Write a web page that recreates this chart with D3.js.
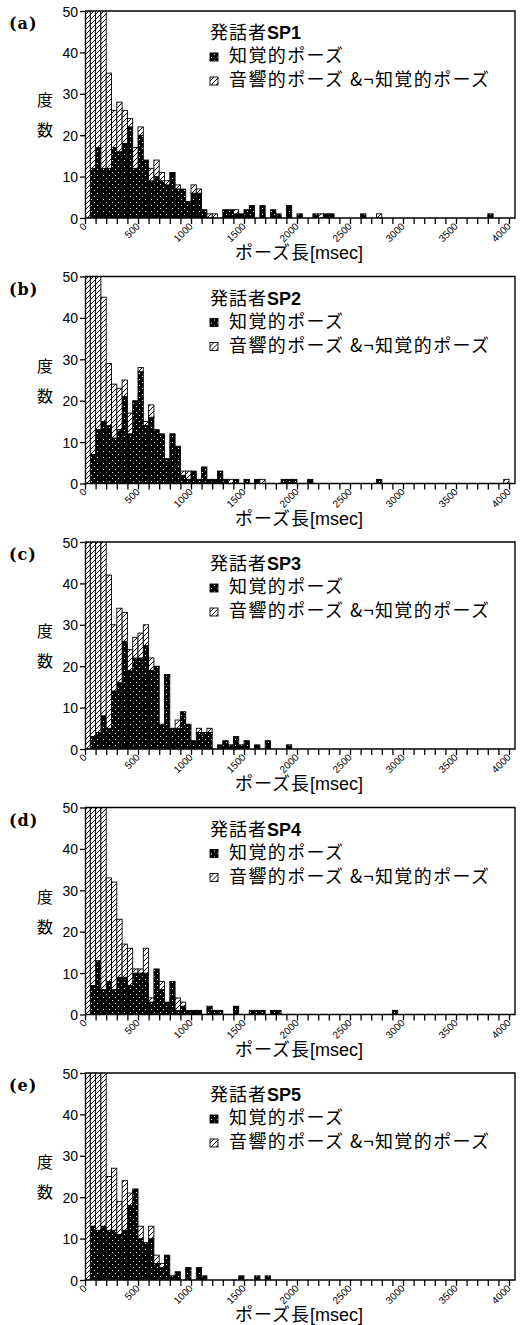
<!DOCTYPE html>
<html>
<head>
<meta charset="utf-8">
<script src="https://cdn.jsdelivr.net/npm/d3@7"></script>
<style>
  body { margin: 0; background: #fff; }
  svg text { fill: #000; }
  .sans { font-family: "Liberation Sans", Arial, sans-serif; }
  .jp { font-family: "Noto Sans CJK JP", sans-serif; }
  .serif { font-family: "DejaVu Serif", serif; font-weight: bold; }
</style>
</head>
<body>
<svg id="chart" width="524" height="1325"></svg>
<script>
// histogram bins are 50 msec wide, counted from 0
const BIN_MS = 50;
const X_MAX = 4000;
const Y_MAX = 50;
const X_TICKS = [0, 500, 1000, 1500, 2000, 2500, 3000, 3500, 4000];
const X_MINOR_STEP = 100;
const Y_TICKS = [0, 10, 20, 30, 40, 50];

const PANEL_LABELS = ["(a)", "(b)", "(c)", "(d)", "(e)"];
const SPEAKERS = ["SP1", "SP2", "SP3", "SP4", "SP5"];
const LEGEND_TITLE = "発話者";
const LEGEND_LABELS = ["知覚的ポーズ", "音響的ポーズ &¬知覚的ポーズ"];
const X_TITLE = "ポーズ長";
const X_UNIT = "[msec]";
const Y_TITLE = ["度", "数"];

// counts per bin: perceived pauses (dark) and acoustic-only pauses (hatched)
const darkSP1 = [0,12,17,12,12,17,16,18,22,12, 20,14,9,10,9,8,11,7,7,4, 6,6,2,0,0,0,2,2,1,1,
                 2,3,0,3,0,2,1,0,3,0, 1,0,0,1,0,1,1,0,0,0, 0,0,1,0,0,0,0,0,0,0,
                 0,0,0,0,0,0,0,0,0,0, 0,0,0,0,0,0,1];
const acoSP1  = [62,48,43,48,23,9,12,8,2,5, 2,0,3,4,2,1,0,1,0,0, 2,1,0,1,1,0,0,0,1,0,
                 0,0,0,0,0,0,0,0,0,0, 0,0,0,0,1,0,0,0,0,0, 0,0,0,0,0,1];

const darkSP2 = [0,7,13,15,14,11,13,21,12,20, 27,14,16,13,12,6,12,9,2,1, 3,1,4,1,1,3,1,0,1,0,
                 1,0,1,0,0,0,0,1,1,1, 0,0,1,0,0,0,0,0,0,0, 0,0,0,0,0,1];
const acoSP2  = [62,53,45,30,15,13,10,4,5,0, 1,1,3,0,0,0,0,0,1,2, 0,0,0,0,0,0,0,1,0,0,
                 0,0,0,1,0,0,0,0,0,0, 0,0,0,0,0,0,0,0,0,0, 0,0,0,0,0,0,0,0,0,0,
                 0,0,0,0,0,0,0,0,0,0, 0,0,0,0,0,0,0,0,0,1];

const darkSP3 = [0,3,4,8,5,14,16,26,19,22, 22,25,19,20,6,18,5,5,9,6, 2,4,4,4,0,1,2,1,3,1,
                 2,0,1,0,2,0,0,0,1];
const acoSP3  = [62,57,56,52,37,16,18,7,5,5, 6,5,3,0,0,0,0,2,0,0, 0,1,0,1];

const darkSP4 = [0,7,13,6,8,6,9,9,7,10, 10,10,3,11,6,3,8,1,2,1, 1,1,0,2,1,1,0,0,2,0,
                 0,1,1,1,0,1,1,0,0,0, 0,0,0,0,0,0,0,0,0,0, 0,0,0,0,0,0,0,0,1];
const acoSP4  = [62,53,47,54,25,26,14,8,9,1, 1,6,1,0,2,0,0,3,1];

const darkSP5 = [0,13,12,13,12,12,11,12,18,22, 10,9,10,4,3,6,1,2,0,3, 0,3,1,0,0,0,0,0,0,1,
                 0,0,1,0,1];
const acoSP5  = [62,47,48,47,13,15,8,12,3,0, 3,0,3,2,1];

const DARK = [darkSP1, darkSP2, darkSP3, darkSP4, darkSP5];
const ACO = [acoSP1, acoSP2, acoSP3, acoSP4, acoSP5];

// Layout
// ----------------------------------------
const plotLeft = 85,
    plotRight = 509,     // x of 4000 msec
    frameRight = 515,
    firstTop = 11,
    panelStep = 265.5,
    plotHeight = 207;

const svg = d3.select("#chart");
const defs = svg.append("defs");

// stippled black for perceived pauses
const dots = defs.append("pattern")
    .attr("id", "dots")
    .attr("patternUnits", "userSpaceOnUse")
    .attr("width", 6).attr("height", 6);
dots.append("rect").attr("width", 6).attr("height", 6).attr("fill", "#000");
dots.append("rect").attr("x", 1).attr("y", 1).attr("width", 1).attr("height", 1).attr("fill", "#fff");
dots.append("rect").attr("x", 4).attr("y", 4).attr("width", 1).attr("height", 1).attr("fill", "#fff");

// diagonal hatch for acoustic-only pauses
const hatch = defs.append("pattern")
    .attr("id", "hatch")
    .attr("patternUnits", "userSpaceOnUse")
    .attr("width", 5).attr("height", 5);
hatch.append("rect").attr("width", 5).attr("height", 5).attr("fill", "#fff");
hatch.append("path")
    .attr("d", "M0,5 L5,0 M-1,1 L1,-1 M4,6 L6,4")
    .attr("stroke", "#000")
    .attr("stroke-width", 1);

const FILLS = ["url(#dots)", "url(#hatch)"];

const x = d3.scaleLinear().domain([0, X_MAX]).range([plotLeft, plotRight]);
const bins = d3.range(0, X_MAX, BIN_MS);

SPEAKERS.forEach((sp, i) => {
    const top = firstTop + i * panelStep;
    const bottom = top + plotHeight;
    const y = d3.scaleLinear().domain([0, Y_MAX]).range([bottom, top]);

    const rows = bins.map((b, k) => ({
        bin: b,
        dark: DARK[i][k] || 0,
        aco: ACO[i][k] || 0
    }));
    const series = d3.stack().keys(["dark", "aco"])(rows);

    const g = svg.append("g");

    g.append("clipPath")
        .attr("id", "clip" + i)
        .append("rect")
        .attr("x", plotLeft).attr("y", top)
        .attr("width", frameRight - plotLeft).attr("height", plotHeight);

    // Bars
    // ----------------------------------------
    const bars = g.append("g").attr("clip-path", `url(#clip${i})`);
    bars.selectAll("g")
        .data(series)
        .join("g")
        .attr("fill", (s, j) => FILLS[j])
        .selectAll("rect")
        .data(s => s.filter(d => d[1] > d[0]))
        .join("rect")
        .attr("x", d => x(d.data.bin))
        .attr("width", d => x(d.data.bin + BIN_MS) - x(d.data.bin))
        .attr("y", d => y(d[1]))
        .attr("height", d => y(d[0]) - y(d[1]))
        .attr("stroke", "#000")
        .attr("stroke-width", 0.9);

    // Axes and frame
    // ----------------------------------------
    const yAxis = g.append("g")
        .attr("transform", `translate(${plotLeft},0)`)
        .call(d3.axisLeft(y).tickValues(Y_TICKS).tickSize(5).tickSizeOuter(0).tickPadding(2));
    yAxis.select(".domain").attr("stroke-width", 1.4);
    yAxis.selectAll(".tick line").attr("stroke-width", 1.3);
    yAxis.selectAll("text")
        .attr("class", "sans")
        .attr("font-family", null)
        .attr("font-size", 14)
        .attr("dy", "0.36em");
    yAxis.attr("font-family", null);

    const xAxis = g.append("g")
        .attr("transform", `translate(0,${bottom})`)
        .call(d3.axisBottom(x)
            .tickValues(d3.range(0, X_MAX + 1, X_MINOR_STEP))
            .tickSize(6).tickSizeOuter(0)
            .tickFormat(""));
    xAxis.select(".domain").remove();
    xAxis.selectAll(".tick line").attr("stroke-width", 1.3);

    g.selectAll(".xlab")
        .data(X_TICKS)
        .join("text")
        .attr("class", "xlab sans")
        .attr("transform", d => `translate(${x(d) + 2.5},${bottom + 9}) rotate(-45)`)
        .attr("text-anchor", "end")
        .attr("font-size", 10)
        .text(d => d);

    // frame: bottom, top and right edges
    g.append("path")
        .attr("d", `M${plotLeft},${bottom}H${frameRight}V${top}H${plotLeft}`)
        .attr("fill", "none")
        .attr("stroke", "#000")
        .attr("stroke-width", 1.4);

    // Labels
    // ----------------------------------------
    g.append("text")
        .attr("class", "serif")
        .attr("x", 9).attr("y", top + 18)
        .attr("font-size", 16)
        .attr("letter-spacing", 1)
        .text(PANEL_LABELS[i]);

    g.selectAll(".ylab")
        .data(Y_TITLE)
        .join("text")
        .attr("class", "ylab jp")
        .attr("x", 45).attr("y", (d, k) => top + 95 + k * 30)
        .attr("text-anchor", "middle")
        .attr("font-size", 16)
        .text(d => d);

    const xt = g.append("text")
        .attr("x", 299).attr("y", top + 248)
        .attr("text-anchor", "middle")
        .attr("font-size", 18);
    xt.append("tspan").attr("class", "jp").attr("letter-spacing", 1).text(X_TITLE);
    xt.append("tspan").attr("class", "sans").text(X_UNIT);

    // Legend
    // ----------------------------------------
    const lg = g.append("g").attr("transform", `translate(210,${top})`);
    const title = lg.append("text").attr("y", 28).attr("font-size", 18);
    title.append("tspan").attr("class", "jp").attr("letter-spacing", 1).text(LEGEND_TITLE);
    title.append("tspan").attr("class", "sans").attr("font-weight", "bold").text(sp);

    const items = lg.selectAll(".item")
        .data(LEGEND_LABELS)
        .join("g")
        .attr("class", "item")
        .attr("transform", (d, k) => `translate(0,${51 + k * 24})`);
    items.append("rect")
        .attr("x", 0).attr("y", -9)
        .attr("width", 8).attr("height", 8)
        .attr("fill", (d, k) => FILLS[k])
        .attr("stroke", "#000")
        .attr("stroke-width", 0.9);
    items.append("text")
        .attr("class", "jp")
        .attr("x", 19)
        .attr("font-size", 18)
        .attr("letter-spacing", 1.4)
        .attr("xml:space", "preserve")
        .text(d => d);
});
</script>
</body>
</html>
